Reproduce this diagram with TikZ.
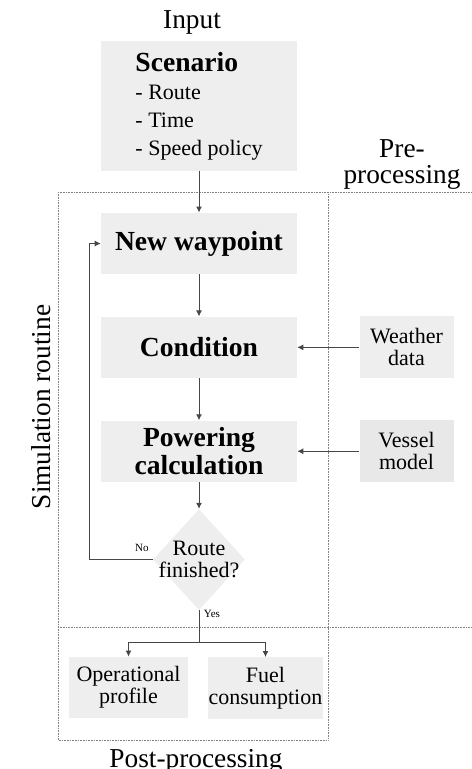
\documentclass[tikz,border=0pt]{standalone}
\usepackage{fontspec}
\setmainfont{Liberation Serif}
\usetikzlibrary{arrows.meta, positioning, shapes}
\definecolor{boxgray}{RGB}{238,238,238}
\definecolor{vesselgray}{RGB}{232,232,232}
\definecolor{linegray}{RGB}{70,70,70}
\tikzstyle{box} = [rectangle, minimum width=147pt, minimum height=46pt, inner sep=0pt, text centered, fill=boxgray, font=\fontsize{20.7}{21}\selectfont\bfseries, align=center]
\tikzstyle{sidebox} = [rectangle, minimum width=70.5pt, minimum height=46.5pt, inner sep=0pt, fill=boxgray, font=\fontsize{16.5}{16.5}\selectfont, align=center]
\tikzstyle{outbox} = [rectangle, minimum height=46pt, inner sep=0pt, fill=boxgray, font=\fontsize{16.5}{16.5}\selectfont, align=center]
\tikzstyle{decision} = [diamond, minimum width=69pt, minimum height=75.75pt, inner sep=0pt, fill=boxgray]
\tikzstyle{arrow} = [draw=linegray, line width=0.75pt, -{Latex[length=4.5pt, width=4.5pt]}]
\tikzstyle{line} = [draw=linegray, line width=0.75pt]
\tikzstyle{frame} = [draw=gray, line width=0.6pt, dash pattern=on 0.6pt off 0.6pt]
\tikzstyle{title} = [font=\fontsize{20.5}{19.5}\selectfont, align=center, inner sep=0pt]
\tikzstyle{tag} = [font=\fontsize{8.3}{9}\selectfont, inner sep=0pt]

\begin{document}
\begin{tikzpicture}[
		x=0.75pt, y=-0.75pt,
		node distance=31.5pt and 46.5pt
	]
	\useasboundingbox (0,0) rectangle (472,769);

	% stage frames
	\draw[frame] (58,192) -- (472,192);
	\draw[frame] (58,627) -- (472,627);
	\draw[frame] (58,192) rectangle (328,740);

	\node[title, anchor=base] (input) at (192,28) {Input};
	\node[title] (pre) at (402,164) {Pre-\\processing};
	\node[title, rotate=90] (sim) at (41,407) {Simulation routine};
	\node[title, anchor=base] (post) at (196,767) {Post-processing};

	\node[box, font=\fontsize{16.5}{21}\selectfont, align=left, minimum height=97.5pt] (scen) at (199,106) {{\fontsize{20.7}{21}\selectfont\bfseries Scenario}\\- Route\\- Time\\- Speed policy};

	% simulation loop
	\node[box] (wp) at (199,243.5) {New waypoint};
	\node[box, below=of wp] (cond) {Condition};
	\node[box, below=of cond] (power) {Powering\\calculation};
	\node[decision, below=20pt of power, label={[font=\fontsize{16.5}{16.5}\selectfont, align=center]center:Route\\finished?}] (fin) {};

	% external data
	\node[sidebox, right=of cond] (weather) {Weather\\data};
	\node[sidebox, fill=vesselgray, right=of power] (vessel) {Vessel\\model};

	% outputs
	\coordinate (split) at (199,642);
	\node[outbox, minimum width=89pt] (op) at (128.5,687.5) {Operational\\profile};
	\node[outbox, minimum width=86pt] (fuel) at (265.5,688) {Fuel\\consumption};

	\node[tag] (no) at (142,548) {No};
	\node[tag] (yes) at (212,614) {Yes};

	\draw[arrow] (scen) -- (wp);
	\draw[arrow] (wp) -- (cond);
	\draw[arrow] (cond) -- (power);
	\draw[arrow] (power) -- (fin);
	\draw[arrow] (weather) -- (cond);
	\draw[arrow] (vessel) -- (power);
	\draw[arrow] (fin.west) -- ++(-63,0) |- (wp.west);
	\draw[line] (fin.south) -- (split);
	\draw[arrow] (split) -| (op.north);
	\draw[arrow] (split) -| (fuel.north);
\end{tikzpicture}
\end{document}
